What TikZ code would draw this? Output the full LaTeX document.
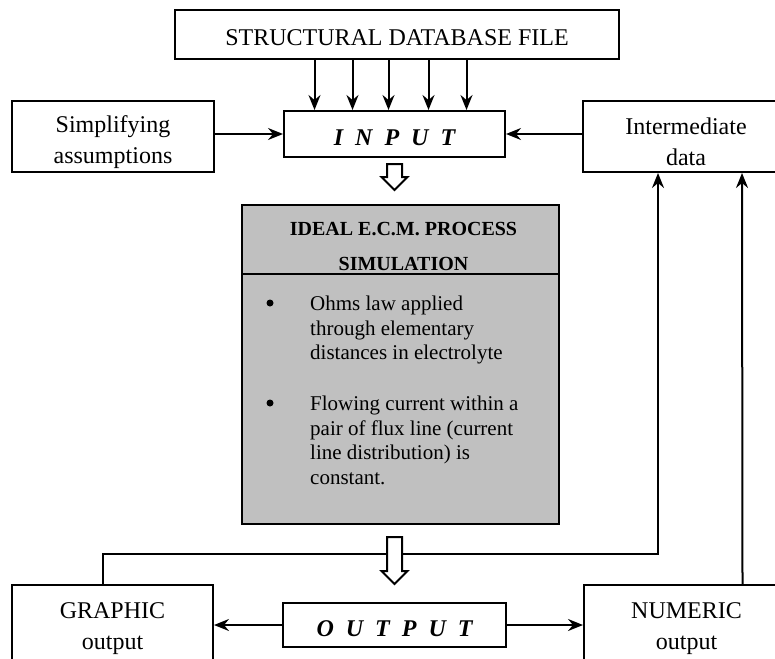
\documentclass[tikz,border=0pt]{standalone}
\usepackage{fontspec}
\setmainfont{Liberation Serif}
\usetikzlibrary{arrows.meta,calc}

\definecolor{simgray}{RGB}{192,192,192}

% strut that sets the text of a box a little low
\newcommand{\drop}{\rule[-6pt]{0pt}{34pt}}

% open block arrow pointing down, from #1 to the tip #2
\newcommand{\blockarrow}[2]{%
  \draw[line width=2pt,fill=white] let \p1=(#1), \p2=(#2) in
    (\x1-7.5pt,\y1) -- (\x1+7.5pt,\y1) -- (\x1+7.5pt,\y2+13pt) -- (\x1+13pt,\y2+13pt)
    -- (\x1,\y2) -- (\x1-13pt,\y2+13pt) -- (\x1-7.5pt,\y2+13pt) -- cycle;}

\begin{document}
\begin{tikzpicture}[x=1pt,y=-1pt,
    box/.style={draw,line width=2pt,inner sep=0pt,align=center,
        font=\fontsize{24}{31}\selectfont},
    io/.style={box,font=\fontsize{24}{31}\selectfont\bfseries\itshape},
    arr/.style={line width=2pt,-{Stealth[length=15pt,width=12pt,inset=5pt]}},
    itemtext/.style={anchor=north west,inner sep=0pt,align=left,
        font=\fontsize{21}{24.5}\selectfont},
    dot/.style={circle,fill,inner sep=0pt,minimum size=7pt}]
    \useasboundingbox (0,0) rectangle (775,658);
    \clip (0,0) rectangle (775,658);

    % input side
    \node[box,minimum width=444pt,minimum height=49pt] (db) at (397,34.5) {\drop STRUCTURAL DATABASE FILE};
    \node[io,minimum width=221pt,minimum height=46pt] (input) at (394.5,134) {\drop I \ N \ P \ U \ T};
    \node[box,minimum width=202pt,minimum height=71pt] (simp) at (113,136.5) {\drop Simplifying\\assumptions};
    \node[box,minimum width=206pt,minimum height=71pt] (inter) at (686,136.5) {\drop Intermediate\\data};

    % simulation block
    \node[draw,line width=2pt,fill=simgray,minimum width=317pt,minimum height=319pt] (sim) at (400.5,364.5) {};
    \node[inner sep=0pt,align=center,font=\fontsize{20}{35}\selectfont\bfseries] (simhead)
        at ($(sim.north)+(3,42.5)$) {IDEAL E.C.M. PROCESS\\SIMULATION};
    \draw[line width=2pt] ($(sim.north west)+(0,70)$) -- ($(sim.north east)+(0,70)$);
    \node[itemtext] (item1) at (310,296) {Ohms law applied\\through elementary\\distances in electrolyte};
    \node[itemtext] (item2) at (310,396) {Flowing current within a\\pair of flux line (current\\line distribution) is\\constant.};
    \node[dot] (dot1) at ($(item1.north west -| 270,0)+(0,7)$) {};
    \node[dot] (dot2) at ($(item2.north west -| 270,0)+(0,7)$) {};

    % output side
    \node[io,minimum width=223pt,minimum height=44pt] (output) at (394.5,625) {\drop O \ U \ T \ P \ U \ T};
    \node[box,minimum width=201pt,minimum height=76pt] (graphic) at (112.5,623) {\drop GRAPHIC\\output};
    \node[box,minimum width=205pt,minimum height=76pt] (numeric) at (686.5,623) {\drop NUMERIC\\output};
    \coordinate (back) at (0,554);

    % connectors
    \foreach \dx in {-80,-42,-6,34,72}
        \draw[arr] ([xshift=\dx pt]input.north |- db.south) -- ([xshift=\dx pt]input.north);
    \draw[arr] (simp.east |- input.west) -- (input.west);
    \draw[arr] (inter.west |- input.east) -- (input.east);
    \draw[arr] (output.west) -- (graphic.east |- output.west);
    \draw[arr] (output.east) -- (numeric.west |- output.east);
    \draw[arr] ([xshift=-10pt]graphic.north) |- ([xshift=-28pt]inter.south |- back) -- ([xshift=-28pt]inter.south);
    \draw[arr] ([xshift=56pt]numeric.north) -- ([xshift=56pt]inter.south);

    \blockarrow{$(input.south)+(0,6)$}{$(sim.north -| input.south)+(0,-14)$}
    \blockarrow{$(sim.south -| output.north)+(0,12)$}{$(output.north)+(0,-18)$}
\end{tikzpicture}
\end{document}
